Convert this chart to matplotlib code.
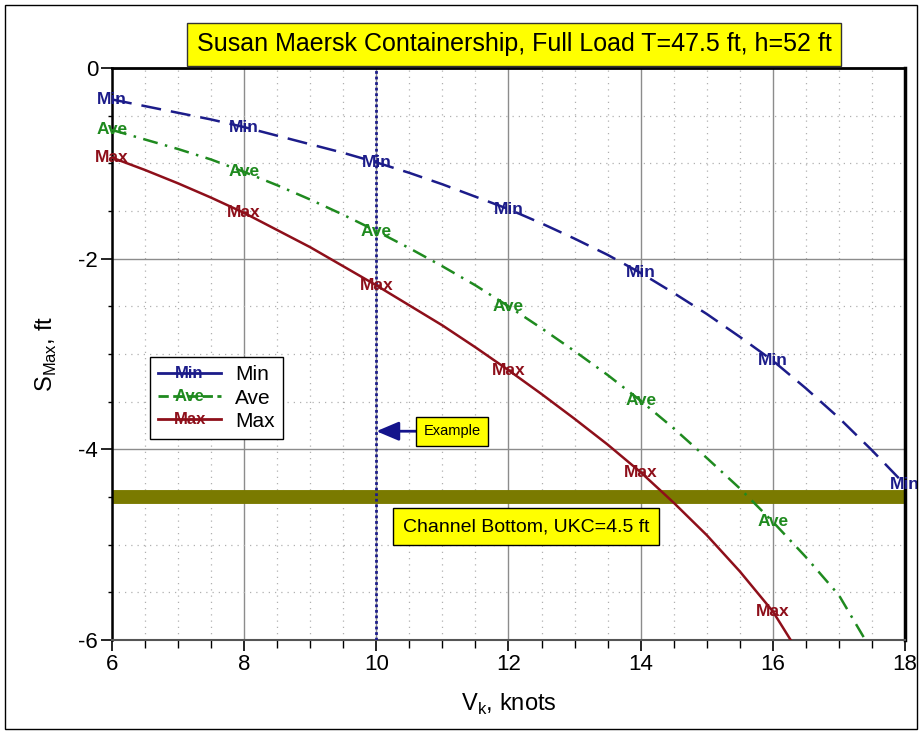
import matplotlib
matplotlib.use("Agg")
import matplotlib.pyplot as plt
import numpy as np
from matplotlib.lines import Line2D
from matplotlib.legend_handler import HandlerBase
from matplotlib.text import Text
from matplotlib.patches import Rectangle

plt.rcParams['font.family'] = ['Liberation Sans', 'DejaVu Sans']

# ---- data ----
speed_min = [6, 6.5, 7, 7.5, 8, 8.5, 9, 9.5, 10, 10.5, 11, 11.5, 12, 12.5, 13, 13.5, 14, 14.5, 15, 15.5, 16, 16.5, 17, 17.5, 18]
squat_min = [-0.33, -0.40, -0.47, -0.54, -0.62, -0.71, -0.80, -0.89, -0.99, -1.10, -1.22, -1.35, -1.48, -1.63, -1.79,
             -1.96, -2.15, -2.36, -2.58, -2.82, -3.07, -3.36, -3.67, -4.01, -4.37]

speed_ave = [6, 6.5, 7, 7.5, 8, 8.5, 9, 9.5, 10, 10.5, 11, 11.5, 12, 12.5, 13, 13.5, 14, 14.5, 15, 15.5, 16, 16.5, 17, 17.4]
squat_ave = [-0.65, -0.75, -0.85, -0.96, -1.09, -1.23, -1.38, -1.54, -1.71, -1.89, -2.08, -2.28, -2.50, -2.73, -2.97,
             -3.22, -3.49, -3.78, -4.09, -4.41, -4.76, -5.13, -5.53, -6.0]

speed_max = [6, 6.5, 7, 7.5, 8, 8.5, 9, 9.5, 10, 10.5, 11, 11.5, 12, 12.5, 13, 13.5, 14, 14.5, 15, 15.5, 16, 16.27]
squat_max = [-0.94, -1.07, -1.21, -1.36, -1.52, -1.70, -1.88, -2.08, -2.28, -2.49, -2.70, -2.93, -3.17, -3.42, -3.68,
             -3.95, -4.24, -4.56, -4.90, -5.28, -5.70, -6.0]

label_speeds = [6, 8, 10, 12, 14, 16, 18]
series_names = ["Min", "Ave", "Max"]
example_speed = 10
example_squat = -3.81
channel_bottom = -4.5
title = "Susan Maersk Containership, Full Load T=47.5 ft, h=52 ft"
channel_text = "Channel Bottom, UKC=4.5 ft"
xticks = [6, 8, 10, 12, 14, 16, 18]
yticks = [0, -2, -4, -6]

colors = {"Min": "#1c1c8a", "Ave": "#1f8a1f", "Max": "#8e0f1a"}
styles = {"Min": (0, (8, 4)), "Ave": (0, (6, 3, 1, 3)), "Max": "-"}

fig = plt.figure(figsize=(9.2, 7.31), dpi=100)
ax = fig.add_axes([112/920, 1-640/731, (905-112)/920, (640-68)/731])
ax.set_xlim(6, 18)
ax.set_ylim(-6, 0)

# grid
ax.set_xticks(xticks)
ax.set_yticks(yticks)
ax.set_xticks(np.arange(6, 18.01, 0.5), minor=True)
ax.set_yticks(np.arange(-6, 0.01, 0.5), minor=True)
ax.grid(which='major', color='#8c8c8c', lw=1.0, ls='-')
ax.grid(which='minor', color='#b0b0b0', lw=0.9, ls=(0, (1, 4)))
ax.set_axisbelow(True)
ax.tick_params(which='major', direction='out', length=8, width=1.2, labelsize=16, pad=2)
ax.tick_params(which='minor', direction='out', length=6, width=1.0)
ax.tick_params(axis='y', which='minor', length=3)
ax.set_yticklabels([str(v) for v in yticks])
for side in ['top', 'right', 'left']:
    ax.spines[side].set_color('black')
ax.spines['top'].set_linewidth(2)
ax.spines['right'].set_linewidth(2.5)
ax.spines['left'].set_linewidth(1.8)
ax.spines['bottom'].set_color('#555555')
ax.spines['bottom'].set_linewidth(1.5)

# channel bottom
ax.axhline(channel_bottom, color='#7a7a00', lw=10, zorder=2, solid_capstyle='butt')

# vertical example line
ax.axvline(example_speed, color='#1c1c8a', lw=2, ls=(0, (1, 1)), zorder=3)

data = {"Min": (speed_min, squat_min), "Ave": (speed_ave, squat_ave), "Max": (speed_max, squat_max)}
for name in series_names:
    xs, ys = data[name]
    ax.plot(xs, ys, color=colors[name], ls=styles[name], lw=1.8, zorder=4)
    for sp in label_speeds:
        if sp in xs:
            yv = ys[xs.index(sp)]
            ax.text(sp, yv, name, color=colors[name], fontsize=12.5, fontweight='bold',
                    ha='center', va='center', zorder=5, clip_on=False)

# example annotation
ax.annotate("Example", xy=(example_speed, example_squat), xytext=(11.15, example_squat),
            fontsize=10.5, ha='center', va='center', zorder=6,
            bbox=dict(boxstyle='square,pad=0.5', fc='#ffff00', ec='black', lw=1),
            arrowprops=dict(arrowstyle='-|>,head_length=1.3,head_width=0.55', color='#14148c', lw=2,
                            shrinkA=0, shrinkB=0))

# channel label
ax.text(12.27, -4.81, channel_text, fontsize=14, ha='center', va='center', zorder=6,
        bbox=dict(boxstyle='square,pad=0.5', fc='#ffff00', ec='black', lw=1))

# title
fig.text(514/920, 1-44/731, title, fontsize=18, ha='center', va='center',
         bbox=dict(boxstyle='square,pad=0.38', fc='#ffff00', ec='#333333', lw=1))

ax.set_xlabel("V$_\\mathregular{k}$, knots", fontsize=17, labelpad=12)
ax.set_ylabel("S$_\\mathregular{Max}$, ft", fontsize=17, labelpad=14)

# legend
class LineTextHandler(HandlerBase):
    def create_artists(self, legend, orig_handle, xdescent, ydescent, width, height, fontsize, trans):
        ln = Line2D([-xdescent, -xdescent + width], [height/2 - ydescent]*2,
                    color=orig_handle.get_color(), ls=orig_handle.get_linestyle(), lw=2, transform=trans)
        tx = Text(-xdescent + width/2, height/2 - ydescent, orig_handle.get_label(),
                  color=orig_handle.get_color(), fontsize=12, fontweight='bold',
                  ha='center', va='center', transform=trans)
        return [ln, tx]

handles = [Line2D([], [], color=colors[n], ls=('-' if n != 'Ave' else (0, (3, 2, 1, 2))), label=n) for n in series_names]
leg = ax.legend(handles, series_names, handler_map={Line2D: LineTextHandler()},
                loc='upper left', bbox_to_anchor=((150-112)/793, (640-357)/572), borderaxespad=0,
                frameon=True, fancybox=False, framealpha=1, edgecolor='black',
                handlelength=3.0, handletextpad=0.7, labelspacing=0.2, borderpad=0.4,
                prop={'size': 15})
leg.get_frame().set_linewidth(1)
leg.set_zorder(7)

# outer frame
fig.patches.append(Rectangle((5/920, 2/731), (917-5)/920, (726-2)/731, transform=fig.transFigure,
                             fill=False, ec='black', lw=1))

fig.savefig("out.png", dpi=100)
